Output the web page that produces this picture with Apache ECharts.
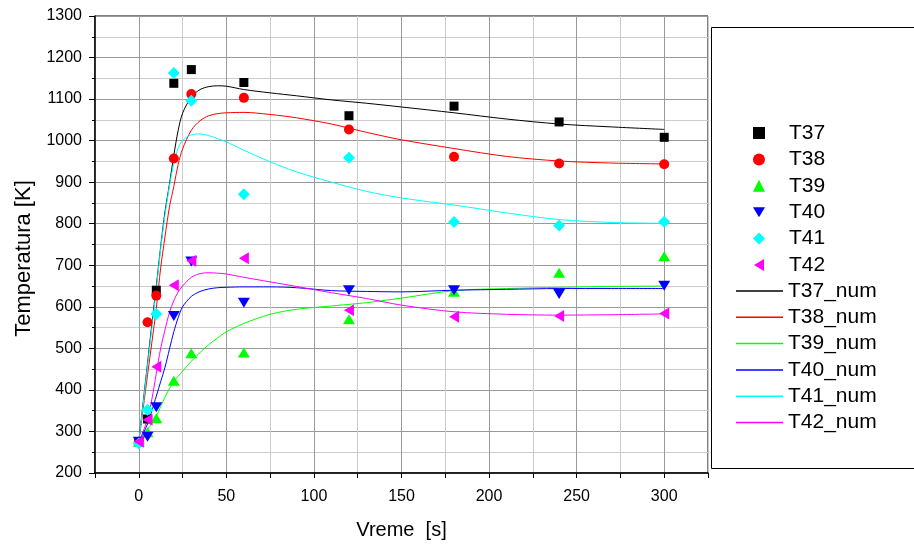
<!DOCTYPE html>
<html>
<head>
<meta charset="utf-8">
<script src="https://cdn.jsdelivr.net/npm/echarts@6/dist/echarts.min.js"></script>
<style>
  html, body { margin: 0; padding: 0; background: #fff; }
  #chart { width: 914px; height: 545px; }
</style>
</head>
<body>
<div id="chart"></div>
<script>
// Measured thermocouple temperatures (K) at the sampling times (s)
const measTimes = [0, 5, 10, 20, 30, 60, 120, 180, 240, 300];
const T37 = [275, 330, 640, 1138, 1171, 1140, 1060, 1083, 1045, 1008];
const T38 = [275, 563, 627, 957, 1112, 1103, 1027, 961, 945, 943];
const T39 = [275, 298, 332, 422, 488, 490, 570, 636, 682, 722];
const T40 = [275, 287, 358, 578, 709, 610, 640, 640, 631, 651];
const T41 = [271, 352, 583, 1163, 1096, 871, 959, 804, 796, 805];
const T42 = [275, 328, 456, 652, 711, 717, 592, 576, 578, 584];

// Numerical (simulated) temperature histories
const numTimes = [0, 2.5, 5, 7.5, 10, 12.5, 15, 17.5, 20, 22.5, 25, 30, 35, 40, 45, 50, 60, 75, 90, 110, 130, 150, 180, 210, 240, 270, 300];
const T37_num = [275, 370, 465, 560, 650, 745, 830, 895, 965, 1025, 1066, 1105, 1123, 1130, 1132, 1131, 1123, 1115, 1108, 1098, 1090, 1081, 1067, 1052, 1040, 1033, 1027];
const T38_num = [275, 355, 436, 515, 596, 694, 770, 840, 890, 943, 980, 1025, 1048, 1060, 1065, 1067, 1068, 1063, 1055, 1040, 1020, 1002, 981, 962, 951, 946, 944];
const T39_num = [275, 290, 305, 320, 336, 360, 383, 403, 420, 433, 445, 469, 490, 509, 525, 540, 560, 582, 594, 602, 610, 621, 639, 644, 647, 649, 650];
const T40_num = [275, 295, 318, 350, 385, 420, 455, 498, 540, 574, 600, 625, 637, 643, 646, 647, 648, 648, 646, 639, 637, 636, 640, 642, 644, 644, 644];
const T41_num = [275, 365, 458, 550, 642, 740, 822, 890, 945, 982, 1000, 1014, 1016, 1012, 1005, 997, 977, 949, 925, 900, 878, 862, 845, 826, 810, 803, 801];
const T42_num = [275, 300, 330, 378, 440, 500, 545, 586, 615, 636, 650, 671, 680, 682, 681, 679, 671, 660, 649, 634, 620, 604, 588, 582, 580, 581, 583];

const FONT = '"Liberation Sans", Arial, sans-serif';

const pairs = (xs, ys) => xs.map((x, i) => [x, ys[i]]);

// marker shapes: down and left pointing triangles as paths
const DOWN_TRI = 'path://M0,0 L12,0 L6,10 Z';
const LEFT_TRI = 'path://M10,0 L10,12 L0,6 Z';

const scatterDefs = [
  { name: 'T37', data: T37, color: '#000000', symbol: 'rect', size: 9, icon: 'rect' },
  { name: 'T38', data: T38, color: '#ff0000', symbol: 'circle', size: 10, icon: 'circle' },
  { name: 'T39', data: T39, color: '#00ff00', symbol: 'triangle', size: [12, 10], icon: 'triangle' },
  { name: 'T40', data: T40, color: '#0000ff', symbol: DOWN_TRI, size: [12, 10], icon: DOWN_TRI },
  { name: 'T41', data: T41, color: '#00ffff', symbol: 'diamond', size: [12, 12], icon: 'diamond' },
  { name: 'T42', data: T42, color: '#ff00ff', symbol: LEFT_TRI, size: [10, 12], icon: LEFT_TRI }
];
const lineDefs = [
  { name: 'T37_num', data: T37_num, color: '#000000' },
  { name: 'T38_num', data: T38_num, color: '#ff0000' },
  { name: 'T39_num', data: T39_num, color: '#00ff00' },
  { name: 'T40_num', data: T40_num, color: '#0000ff' },
  { name: 'T41_num', data: T41_num, color: '#00ffff' },
  { name: 'T42_num', data: T42_num, color: '#ff00ff' }
];

const series = [];
lineDefs.forEach(d => series.push({
  name: d.name, type: 'line', data: pairs(numTimes, d.data),
  symbol: 'none', showSymbol: false, smooth: 0.3, z: 2,
  color: d.color, lineStyle: { color: d.color, width: 1 }
}));
scatterDefs.forEach(d => series.push({
  name: d.name, type: 'scatter', data: pairs(measTimes, d.data),
  symbol: d.symbol, symbolSize: d.size, symbolKeepAspect: false, z: 3,
  color: d.color, itemStyle: { color: d.color, opacity: 1 }
}));

const legendText = { fontFamily: FONT, fontSize: 21, color: '#000', lineHeight: 24 };

const chart = echarts.init(document.getElementById('chart'), null, { renderer: 'canvas' });
chart.setOption({
  animation: false,
  backgroundColor: '#ffffff',
  grid: { left: 95, right: 206, top: 16, bottom: 72, show: true, borderColor: '#000', borderWidth: 1 },
  xAxis: {
    type: 'value', min: -25, max: 325, interval: 25,
    name: 'Vreme  [s]', nameLocation: 'middle', nameGap: 47,
    nameTextStyle: { fontFamily: FONT, fontSize: 20, color: '#000' },
    axisLine: { show: true, onZero: false, lineStyle: { color: '#000', width: 1.5 } },
    axisTick: { show: true, inside: false, length: 5, lineStyle: { color: '#000', width: 1 } },
    axisLabel: {
      margin: 16, fontFamily: FONT, fontSize: 16, color: '#000',
      formatter: v => (v % 50 === 0 ? String(v) : '')
    },
    splitLine: { show: true, lineStyle: { color: ['#cccccc', '#999999'], width: 1 } }
  },
  yAxis: {
    type: 'value', min: 200, max: 1300, interval: 100,
    name: 'Temperatura [K]', nameLocation: 'middle', nameGap: 60,
    nameTextStyle: { fontFamily: FONT, fontSize: 22, color: '#000', padding: [0, 28, 0, 0] },
    axisLine: { show: true, onZero: false, lineStyle: { color: '#000', width: 1.5 } },
    axisTick: { show: true, inside: false, length: 6, lineStyle: { color: '#000', width: 1 } },
    minorTick: { show: true, splitNumber: 2, length: 3, lineStyle: { color: '#000', width: 1 } },
    axisLabel: { margin: 13, fontFamily: FONT, fontSize: 16, color: '#000', formatter: v => String(v) },
    splitLine: { show: true, lineStyle: { color: '#999999', width: 1 } },
    minorSplitLine: { show: true, lineStyle: { color: '#cccccc', width: 1 } }
  },
  legend: [{
    orient: 'vertical', left: 753, top: 121, padding: 0,
    itemWidth: 12, itemHeight: 12, itemGap: 2.4, selectedMode: false,
    textStyle: Object.assign({ padding: [0, 0, 0, 19] }, legendText),
    data: scatterDefs.map(d => ({ name: d.name, icon: d.icon }))
  }, {
    orient: 'vertical', left: 736, top: 279, padding: 0,
    itemWidth: 47, itemHeight: 1.5, itemGap: 2.3, selectedMode: false,
    textStyle: legendText,
    data: lineDefs.map(d => ({ name: d.name, icon: 'rect' }))
  }],
  graphic: [{
    type: 'rect', silent: true, z: 0,
    shape: { x: 711.5, y: 27.5, width: 260, height: 441 },
    style: { fill: 'none', stroke: '#000', lineWidth: 1 }
  }],
  series: series
});
</script>
</body>
</html>
